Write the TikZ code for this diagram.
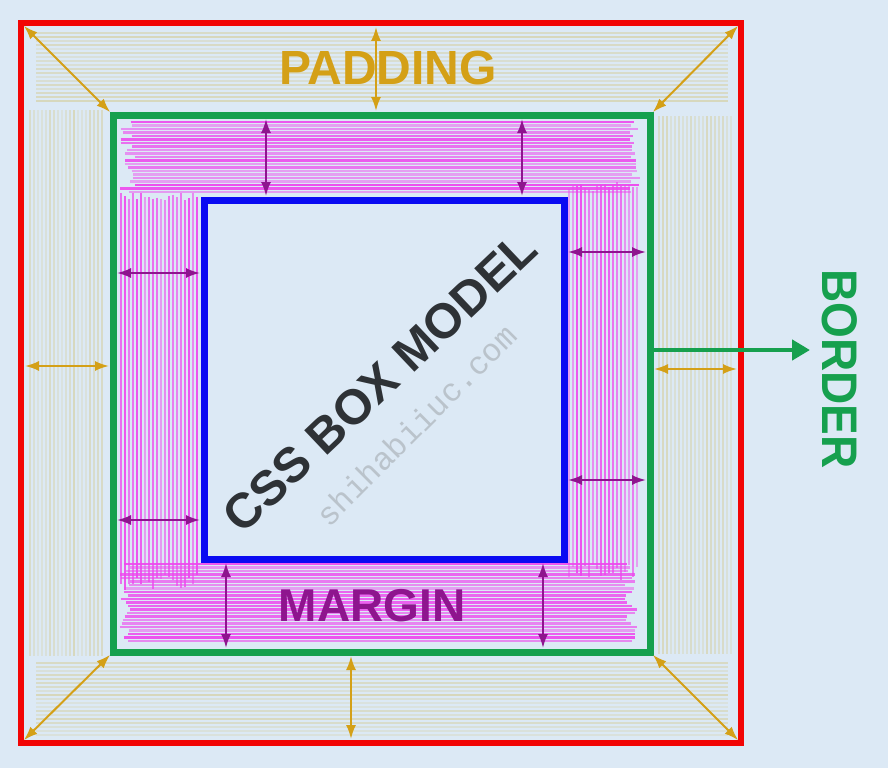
\documentclass[tikz,border=0pt]{standalone}
\usepackage{fontspec}
\setmainfont{Liberation Sans}
\newfontfamily\sitefont{Liberation Mono}
\usepackage{xcolor}
\usetikzlibrary{arrows.meta}

\definecolor{bgblue}{HTML}{DCE9F5}
\definecolor{boxred}{HTML}{F20505}
\definecolor{boxgreen}{HTML}{16A04E}
\definecolor{boxblue}{HTML}{0A0AF2}
\definecolor{padgold}{HTML}{D4A017}
\definecolor{padstreak}{HTML}{D6D1A6}
\definecolor{marpurple}{HTML}{8E158E}
\definecolor{marstreak}{HTML}{EE48EE}
\definecolor{titlegray}{HTML}{2E3236}
\definecolor{sitegray}{HTML}{BAC3CB}

\begin{document}
\begin{tikzpicture}[x=1pt,y=-1pt,
box/.style = {draw=#1, rectangle, inner sep=0pt, outer sep=0pt},
pad arrow/.style = {padgold, line width=2pt, {Latex[length=14pt,width=10pt]}-{Latex[length=14pt,width=10pt]}, shorten <=4pt, shorten >=4pt},
mar arrow/.style = {marpurple, line width=2pt, {Latex[length=14pt,width=10pt]}-{Latex[length=14pt,width=10pt]}, shorten <=4pt, shorten >=4pt},
boxtitle/.style = {inner sep=0pt, font=\bfseries\fontsize{#1}{#1}\selectfont}]
\fill[bgblue] (0,0) rectangle (888,768);
\useasboundingbox (0,0) rectangle (888,768);
\pgfmathsetseed{11}

% padding streaks
\foreach \y [evaluate=\y as \op using 0.25+0.5*rnd] in {33,37,...,103}
  \draw[padstreak, line width=2.6pt, opacity=\op] (36,\y) -- (728,\y);
\foreach \y [evaluate=\y as \op using 0.25+0.5*rnd] in {663,667,...,737}
  \draw[padstreak, line width=2.6pt, opacity=\op] (36,\y) -- (728,\y);
\foreach \x [evaluate=\x as \op using 0.25+0.5*rnd] in {30,34,...,102}
  \draw[padstreak, line width=2.6pt, opacity=\op] (\x,110) -- (\x,656);
\foreach \x [evaluate=\x as \op using 0.25+0.5*rnd] in {659,663,...,731}
  \draw[padstreak, line width=2.6pt, opacity=\op] (\x,116) -- (\x,654);

% margin streaks
\foreach \y [evaluate=\y as \op using 0.45+0.5*rnd] in {122,125.5,...,194} {
  \pgfmathsetmacro\xa{120+15*rnd}
  \pgfmathsetmacro\xb{628+12*rnd}
  \draw[marstreak, line width=2.4pt, opacity=\op] (\xa,\y) -- (\xb,\y);
}
\foreach \y [evaluate=\y as \op using 0.45+0.5*rnd] in {564,567.5,...,642} {
  \pgfmathsetmacro\xa{118+15*rnd}
  \pgfmathsetmacro\xb{625+12*rnd}
  \draw[marstreak, line width=2.4pt, opacity=\op] (\xa,\y) -- (\xb,\y);
}
\foreach \x [evaluate=\x as \op using 0.45+0.5*rnd] in {121,125,...,198} {
  \pgfmathsetmacro\ya{192+10*rnd}
  \pgfmathsetmacro\yb{575+15*rnd}
  \draw[marstreak, line width=2.4pt, opacity=\op] (\x,\ya) -- (\x,\yb);
}
\foreach \x [evaluate=\x as \op using 0.45+0.5*rnd] in {569,573,...,637} {
  \pgfmathsetmacro\ya{182+10*rnd}
  \pgfmathsetmacro\yb{565+15*rnd}
  \draw[marstreak, line width=2.4pt, opacity=\op] (\x,\ya) -- (\x,\yb);
}

\node[boxtitle=48, padgold] (padding) at (388,68) {PADDING};
\node[boxtitle=46, marpurple] (margin) at (372,606) {MARGIN};
\node[boxtitle=49, titlegray, rotate=43.5] (title) at (380,382) {CSS BOX MODEL};
\node[inner sep=0pt, sitegray, rotate=45, font=\sitefont\fontsize{32}{32}\selectfont] (site) at (416,425) {shihabiiuc.com};
\node[boxtitle=50, boxgreen, rotate=-90] (border) at (840,369) {\scalebox{0.92}[1]{BORDER}};

\node[box=boxred, line width=6pt, minimum width=720pt, minimum height=720pt] (outerbox) at (381,383) {};
\node[box=boxgreen, line width=7pt, minimum width=537pt, minimum height=537pt] (midbox) at (381.5,383.5) {};
\node[box=boxblue, line width=7pt, minimum width=360pt, minimum height=359pt] (innerbox) at (384,379.5) {};

\draw[pad arrow] (outerbox.north west) -- (midbox.north west);
\draw[pad arrow] (outerbox.north east) -- (midbox.north east);
\draw[pad arrow] (outerbox.south west) -- (midbox.south west);
\draw[pad arrow] (outerbox.south east) -- (midbox.south east);
\draw[pad arrow] (376,0 |- outerbox.north) -- (376,0 |- midbox.north);
\draw[pad arrow] (351,0 |- outerbox.south) -- (351,0 |- midbox.south);
\draw[pad arrow] (outerbox.west |- 0,366) -- (midbox.west |- 0,366);
\draw[pad arrow] (outerbox.east |- 0,369) -- (midbox.east |- 0,369);

\foreach \x in {266,522} \draw[mar arrow] (\x,0 |- midbox.north) -- (\x,0 |- innerbox.north);
\foreach \x in {226,543} \draw[mar arrow] (\x,0 |- midbox.south) -- (\x,0 |- innerbox.south);
\foreach \y in {273,520} \draw[mar arrow] (midbox.west |- 0,\y) -- (innerbox.west |- 0,\y);
\foreach \y in {252,480} \draw[mar arrow] (midbox.east |- 0,\y) -- (innerbox.east |- 0,\y);

\coordinate (tip) at (810,350);
\draw[boxgreen, line width=4.5pt, -{Triangle[length=18pt,width=20pt]}] (midbox.east |- 0,350) -- (tip);
\end{tikzpicture}
\end{document}
